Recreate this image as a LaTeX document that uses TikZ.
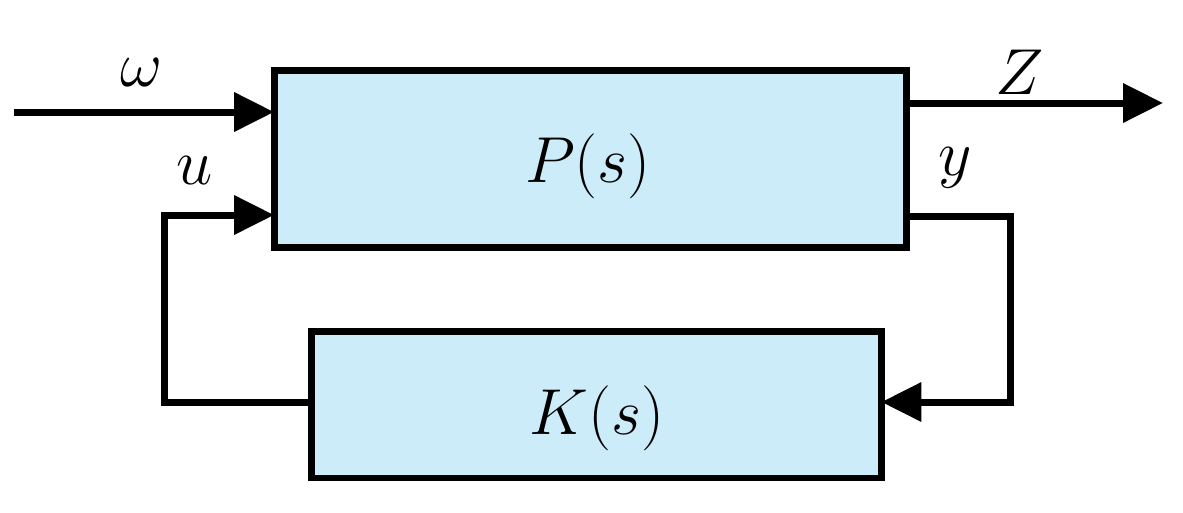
\RequirePackage{fix-cm}
\documentclass[tikz,border=0pt]{standalone}
\usetikzlibrary{arrows.meta}
\definecolor{boxfill}{RGB}{205,236,249}
\begin{document}
\begin{tikzpicture}[x=0.02cm,y=-0.02cm,
  blk/.style={draw=black,fill=boxfill,line width=0.14cm,inner sep=0pt,outer sep=0pt},
  sig/.style={line width=0.14cm,line join=miter,-{Triangle[length=0.8cm,width=0.76cm]}},
  lbl/.style={font=\fontsize{37}{44}\selectfont}]
\useasboundingbox (0,0) rectangle (1183,512);
\node[blk,minimum width=12.66cm,minimum height=3.56cm] (P) at (590.5,159) {};
\node[blk,minimum width=11.4cm,minimum height=2.93cm] (K) at (596.5,404.75) {};
\node[lbl] (Pl) at (588,166) {$P(s)$};
\node[lbl] (Kl) at (597,418) {$K(s)$};
\coordinate (ws) at (14,112);
\coordinate (ze) at (1163,103);
\coordinate (yr) at (1010,216);
\coordinate (ul) at (164,215);
\draw[sig] (ws) -- (ws -| P.west);
\draw[sig] (ze -| P.east) -- (ze);
\draw[sig] (yr -| P.east) -- (yr) -- (yr |- 0,402) -- (K.east |- 0,402);
\draw[sig] (K.west |- 0,402) -- (ul |- 0,402) -- (ul) -- (ul -| P.west);
\node[lbl] (wl) at (141,72) {$\omega$};
\node[lbl] (ulb) at (195,170) {$u$};
\node[lbl] (zl) at (1020,72) {$Z$};
\node[lbl] (yl) at (955,168) {$y$};
\end{tikzpicture}
\end{document}
